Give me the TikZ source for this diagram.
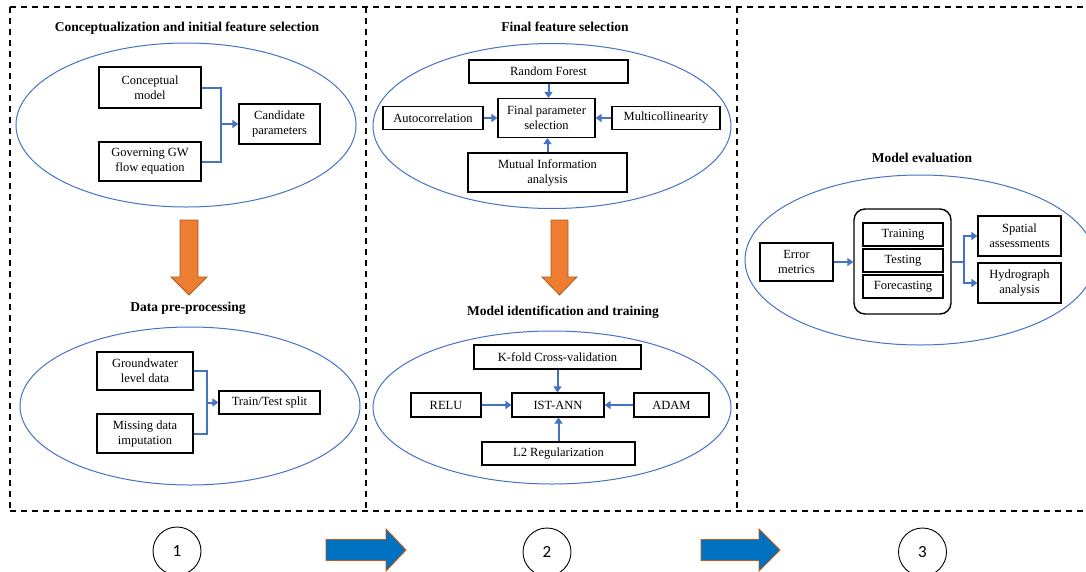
\documentclass[tikz,border=0pt]{standalone}
\usepackage{fontspec}
\setmainfont{Liberation Serif}
\newfontfamily\numfont{Carlito}
\usepackage{tikz}
\usetikzlibrary{calc,arrows.meta,shapes.geometric}

\definecolor{ellblue}{HTML}{4472C4}
\definecolor{linkblue}{HTML}{4472C4}
\definecolor{orangefill}{HTML}{ED7D31}
\definecolor{orangeline}{HTML}{AE5A21}
\definecolor{stepblue}{HTML}{0070C0}
\definecolor{stepline}{HTML}{C55A11}

\begin{document}
\begin{tikzpicture}[x=1pt,y=-1pt,
		box/.style={draw,line width=1.2pt,align=center,inner sep=0pt,
			font=\fontsize{12.5}{15}\selectfont},
		title/.style={font=\fontsize{13.5}{16}\selectfont\bfseries},
		cloud/.style={ellipse,draw=ellblue,line width=1pt,inner sep=0pt},
		link/.style={draw=linkblue,line width=2pt},
		linkarrow/.style={link,-{Triangle[length=6pt,width=8pt]}},
		panel/.style={dashed,line width=1.4pt,dash pattern=on 6pt off 5pt},
		stepnum/.style={circle,draw,line width=0.9pt,minimum size=48pt,inner sep=0pt,
			font=\numfont\fontsize{17}{17}\selectfont},
		]
		\useasboundingbox (0,0) rectangle (1086,571);
		
		% dashed panels
		\draw[panel] (10,7) -- (1086,7);
		\draw[panel] (10,511) -- (1086,511);
		\draw[panel] (10,7) -- (10,511);
		\draw[panel] (366,7) -- (366,511);
		\draw[panel] (737,7) -- (737,511);
		
		% panel 1
		\node[title](T1) at (187,28){Conceptualization and initial feature selection};
		\node[cloud, minimum width=340, minimum height=164](E1) at (186,125){};
		\node[box, minimum width=102, minimum height=41](CM) at (150,87.5){Conceptual\\model};
		\node[box, minimum width=102, minimum height=39](GW) at (150,161.5){Governing GW\\flow equation};
		\node[box, minimum width=81, minimum height=40](CP) at (279.5,124){Candidate\\parameters};
		\coordinate (J1) at (221,124);
		\draw[link] (CM.east) -| (J1);
		\draw[link] (GW.east) -| (J1);
		\draw[linkarrow] (J1) -- (CP.west);
		
		\draw[fill=orangefill,draw=orangeline,line width=0.8pt]
			(180,220) -- (198,220) -- (198,277) -- (207,277) -- (189,295)
			-- (171,277) -- (180,277) -- cycle;
		
		\node[title](T2) at (188,308){Data pre-processing};
		\node[cloud, minimum width=340, minimum height=158](E2) at (190,406){};
		\node[box, minimum width=96, minimum height=38](GL) at (145,371){Groundwater\\level data};
		\node[box, minimum width=96, minimum height=39](MD) at (145,433.5){Missing data\\imputation};
		\node[box, minimum width=101, minimum height=23](TT) at (269.5,402.5){Train/Test split};
		\coordinate (J2) at (207,402.5);
		\draw[link] (GL.east) -| (J2);
		\draw[link] (MD.east) -| (J2);
		\draw[linkarrow] (J2) -- (TT.west);
		
		% panel 2
		\node[title](T3) at (565,27){Final feature selection};
		\node[cloud, minimum width=358, minimum height=165](E3) at (552,126){};
		\node[box, minimum width=159, minimum height=23](RF) at (548.5,71.5){Random Forest};
		\node[box, minimum width=97, minimum height=39](FP) at (546.5,118){Final parameter\\selection};
		\node[box, minimum width=100, minimum height=23](AC) at (433,118){Autocorrelation};
		\node[box, minimum width=108, minimum height=23](MC) at (666,118){Multicollinearity};
		\node[box, minimum width=159, minimum height=39](MI) at (547.5,172.5){Mutual Information\\analysis};
		\draw[linkarrow] (RF.south) -- (RF.south |- FP.north);
		\draw[linkarrow] (MI.north) -- (MI.north |- FP.south);
		\draw[linkarrow] (AC.east) -- (FP.west);
		\draw[linkarrow] (MC.west) -- (FP.east);
		
		\draw[fill=orangefill,draw=orangeline,line width=0.8pt]
			(551,220) -- (568,220) -- (568,277) -- (577,277) -- (559.5,295)
			-- (542,277) -- (551,277) -- cycle;
		
		\node[title](T4) at (563,312){Model identification and training};
		\node[cloud, minimum width=358, minimum height=153](E4) at (552,407.5){};
		\node[box, minimum width=167, minimum height=24](KF) at (557.5,357){K-fold Cross-validation};
		\node[box, minimum width=92, minimum height=24](IA) at (558,405){IST-ANN};
		\node[box, minimum width=70, minimum height=24](RL) at (446,405){RELU};
		\node[box, minimum width=75, minimum height=24](AD) at (671.5,405){ADAM};
		\node[box, minimum width=153, minimum height=23](L2) at (558.5,453.5){L2 Regularization};
		\draw[linkarrow] (KF.south) -- (KF.south |- IA.north);
		\draw[linkarrow] (L2.north) -- (L2.north |- IA.south);
		\draw[linkarrow] (RL.east) -- (IA.west);
		\draw[linkarrow] (AD.west) -- (IA.east);
		
		% panel 3
		\node[title](T5) at (922,158){Model evaluation};
		\node[cloud, minimum width=350, minimum height=170](E5) at (920,260){};
		\node[box, minimum width=73, minimum height=38](EM) at (796.5,262){Error\\metrics};
		\node[draw, line width=1.4pt, rounded corners=11pt, minimum width=97, minimum height=105](RB) at (902.5,261.5){};
		\node[box, minimum width=80, minimum height=23](TR) at (903,234.5){Training};
		\node[box, minimum width=80, minimum height=23](TS) at (903,260.5){Testing};
		\node[box, minimum width=80, minimum height=23](FC) at (903,286.5){Forecasting};
		\node[box, minimum width=83, minimum height=40](SA) at (1019.5,236){Spatial\\assessments};
		\node[box, minimum width=83, minimum height=40](HA) at (1019.5,283){Hydrograph\\analysis};
		\coordinate (J3) at (964,261.5);
		\draw[linkarrow] (EM.east) -- (EM.east -| RB.west);
		\draw[link] (RB.east |- J3) -- (J3);
		\draw[linkarrow] (J3) |- (SA.west);
		\draw[linkarrow] (J3) |- (HA.west);
		
		% steps
		\node[stepnum](C1) at (177,551){1};
		\node[stepnum](C2) at (547,552){2};
		\node[stepnum](C3) at (922.5,552){3};
		\draw[fill=stepblue,draw=stepline,line width=0.9pt]
			(326,539.5) -- (386,539.5) -- (386,529) -- (406,550) -- (386,571)
			-- (386,560.5) -- (326,560.5) -- cycle;
		\draw[fill=stepblue,draw=stepline,line width=0.9pt]
			(701,539.5) -- (759,539.5) -- (759,529) -- (780,550) -- (759,571)
			-- (759,560.5) -- (701,560.5) -- cycle;
	\end{tikzpicture}
\end{document}
